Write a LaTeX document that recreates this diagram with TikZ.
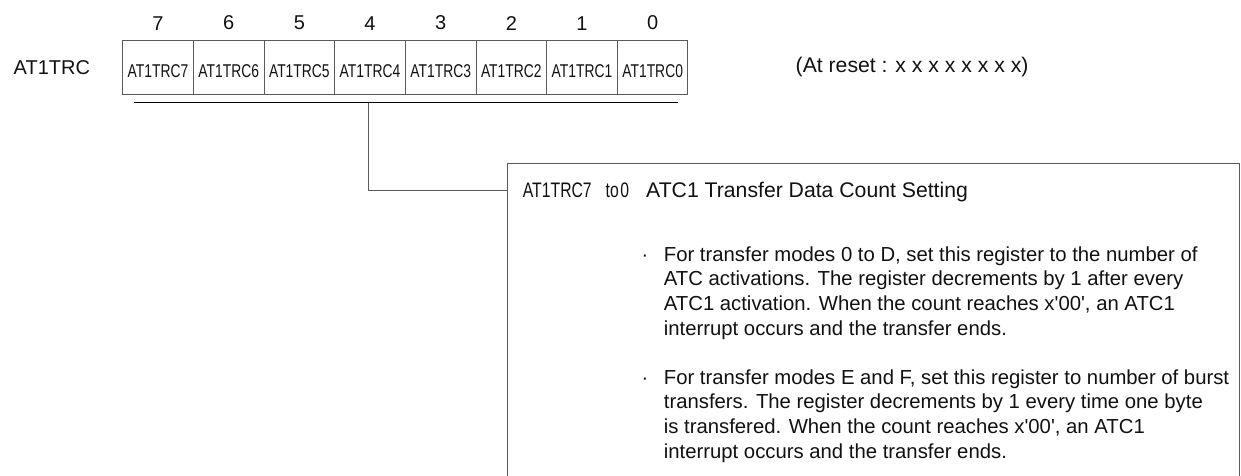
\documentclass[tikz,border=0pt]{standalone}
\usepackage{fontspec}
\setmainfont{Liberation Sans}[Ligatures=TeXOff]
\newfontfamily\narrowfont[FakeStretch=0.75]{Liberation Sans}
\usetikzlibrary{positioning}
\definecolor{RegLine}{HTML}{5A5A5A}
\definecolor{RegText}{HTML}{111111}

\begin{document}
\begin{tikzpicture}[x=1pt,y=-1pt,
  cell/.style={draw=RegLine,line width=1pt,minimum width=70.66pt,minimum height=53.8pt,inner sep=0pt,text height=20pt,text depth=0pt,text=RegText,font=\narrowfont\fontsize{18.5}{20}\selectfont},
  bitno/.style={inner sep=0pt,text=RegText,font=\fontsize{20}{24}\selectfont},
  lbl/.style={inner sep=0pt,text=RegText,font=\fontsize{20}{24}\selectfont},
  para/.style={inner sep=0pt,anchor=north west,align=left,text=RegText,font=\fontsize{20.3}{24.7}\selectfont},
  conn/.style={draw=RegLine,line width=1pt},
  descbox/.style={draw=RegLine,line width=1pt,minimum width=732pt,minimum height=400pt,inner sep=0pt}
]
\useasboundingbox (0,0) rectangle (1241,476);
\clip (0,0) rectangle (1241,476);
% register bits
\foreach \i in {7,...,0} {
  \node[cell] (b\i) at ({122.7+70.66*(7.5-\i)},67.4) {AT1TRC\i};
  \node[bitno,above=9.7pt of b\i] (n\i) {\i};
}
\node[lbl,left=32pt of b7] (reg) {AT1TRC};
\node[lbl,right=107pt of b0,font=\fontsize{21.2}{24}\selectfont] (rst) {(At reset : x x x x x x x x)};
% bracket under the bits
\coordinate (barL) at (134,103);
\coordinate (barR) at (678,103);
\coordinate (tap) at (368,103);
\draw[line width=1pt] (barL) -- (barR);
% description
\node[descbox,anchor=north west] (desc) at (507,162.7) {};
\draw[conn] (tap) |- ([yshift=-27.3pt]desc.north west);
\node[lbl,anchor=base west] (ttl) at (522.7,197.5) {\narrowfont\fontsize{21}{24}\selectfont AT1TRC7\hspace{14pt}to\kern1.5pt0};
\node[lbl,anchor=base west,font=\fontsize{21.2}{24}\selectfont] (ttlx) at (646,197.5) {ATC1 Transfer Data Count Setting};
\node[lbl,anchor=base] (dot1) at (645,261) {·};
\node[para] (p1) at (663.7,246.2) {For transfer modes 0 to D, set this register to the number of\\
ATC activations. The register decrements by 1 after every\\
ATC1 activation. When the count reaches x'00', an ATC1\\
interrupt occurs and the transfer ends.};
\node[lbl,anchor=base] (dot2) at (645,384) {·};
\node[para] (p2) at (663.7,369.2) {For transfer modes E and F, set this register to number of burst\\
transfers. The register decrements by 1 every time one byte\\
is transfered. When the count reaches x'00', an ATC1\\
interrupt occurs and the transfer ends.};
\end{tikzpicture}
\end{document}
